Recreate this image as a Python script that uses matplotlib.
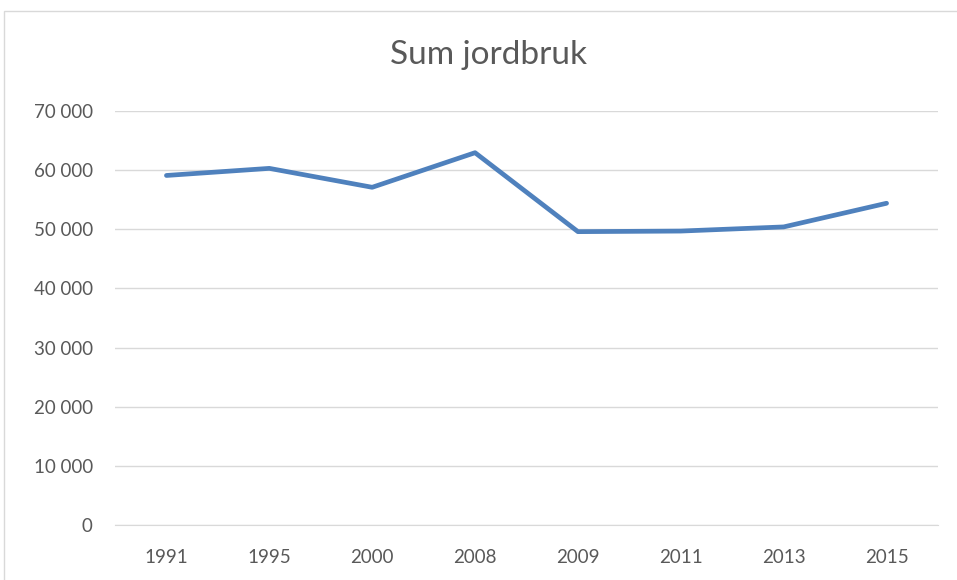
import matplotlib.pyplot as plt
from matplotlib.patches import Rectangle
from matplotlib.ticker import FuncFormatter

years = ['1991', '1995', '2000', '2008', '2009', '2011', '2013', '2015']
sum_jordbruk = [59100, 60300, 57100, 62950, 49600, 49700, 50400, 54400]

W, H = 957, 580
fig = plt.figure(figsize=(W / 100, H / 100), dpi=100)
plt.rcParams['font.family'] = ['Lato', 'DejaVu Sans']

# chart area border (cut off at right and bottom like the screenshot)
fig.patches.append(Rectangle((4 / W, -0.1), 1.2, 1.1 - 11 / H,
                             transform=fig.transFigure, fill=False,
                             edgecolor='#D9D9D9', linewidth=1))

# [left, bottom, width, height]
ax = fig.add_axes([115 / W, (H - 525) / H, (938 - 115) / W, (525 - 111) / H])

x = range(len(years))
ax.plot(x, sum_jordbruk, color='#4F81BD', linewidth=3.4,
        solid_joinstyle='round', solid_capstyle='round')

ax.set_xlim(-0.5, len(years) - 0.5)
ax.set_ylim(0, 70000)
ax.set_yticks(range(0, 70001, 10000))
ax.yaxis.set_major_formatter(FuncFormatter(lambda v, p: f'{int(v):,}'.replace(',', ' ')))
ax.set_xticks(list(x))
ax.set_xticklabels(years)

ax.grid(axis='y', color='#D9D9D9', linewidth=1)
ax.set_axisbelow(True)
for s in ['top', 'right', 'left']:
    ax.spines[s].set_visible(False)
ax.spines['bottom'].set_color('#D9D9D9')
ax.tick_params(length=0, colors='#595959', labelsize=13.5)
ax.tick_params(axis='y', pad=16)
ax.tick_params(axis='x', pad=17)

fig.text(489 / W, (H - 55) / H, 'Sum jordbruk', ha='center', va='center',
         fontsize=24, color='#595959')

fig.savefig('out.png', dpi=100)
